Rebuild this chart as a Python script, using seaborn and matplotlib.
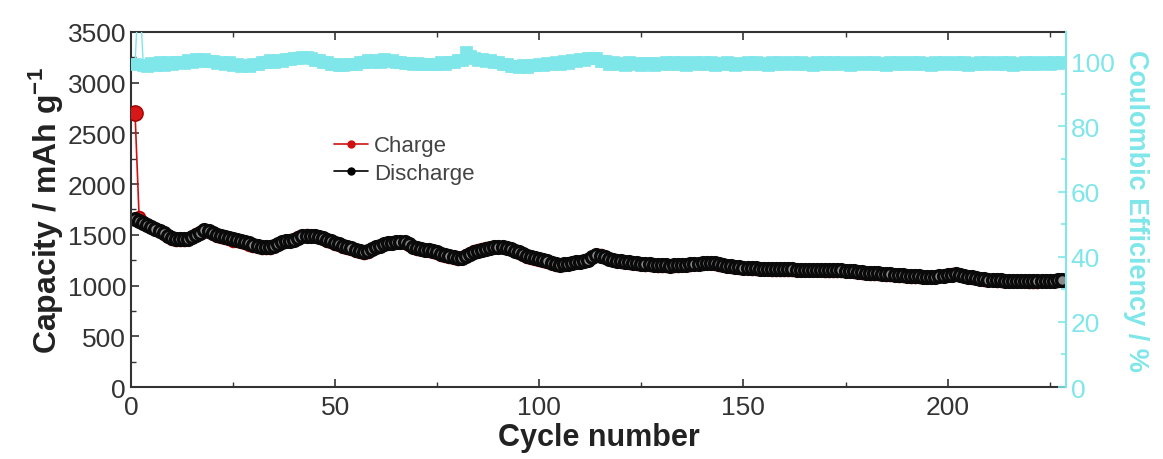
import numpy as np
import pandas as pd
import matplotlib
matplotlib.use("Agg")
import matplotlib.pyplot as plt
from matplotlib.lines import Line2D
from matplotlib.ticker import MultipleLocator
import seaborn as sns

# ── данные ──
discharge = [
    1660, 1640, 1620, 1600, 1580, 1560, 1540, 1515, 1490, 1470,
    1460, 1455, 1455, 1460, 1475, 1495, 1520, 1545, 1535, 1515,
    1500, 1485, 1475, 1465, 1455, 1450, 1440, 1430, 1415, 1400,
    1390, 1385, 1380, 1382, 1390, 1410, 1425, 1435, 1440, 1450,
    1470, 1485, 1490, 1488, 1485, 1478, 1465, 1450, 1435, 1420,
    1405, 1390, 1380, 1370, 1355, 1345, 1335, 1340, 1360, 1380,
    1395, 1405, 1415, 1420, 1428, 1432, 1425, 1405, 1385, 1370,
    1362, 1355, 1350, 1340, 1330, 1315, 1300, 1290, 1278, 1270,
    1275, 1295, 1315, 1330, 1340, 1350, 1360, 1370, 1378, 1380,
    1378, 1370, 1360, 1345, 1330, 1310, 1295, 1280, 1270, 1260,
    1250, 1238, 1225, 1212, 1205, 1208, 1215, 1222, 1228, 1235,
    1242, 1255, 1280, 1300, 1295, 1278, 1262, 1252, 1245, 1240,
    1235, 1230, 1225, 1220, 1215, 1212, 1208, 1205, 1202, 1200,
    1198, 1196, 1198, 1200, 1203, 1206, 1210, 1213, 1215, 1218,
    1220, 1222, 1218, 1210, 1202, 1195, 1190, 1186, 1182, 1178,
    1175, 1172, 1170, 1168, 1166, 1165, 1164, 1163, 1162, 1160,
    1160, 1159, 1158, 1158, 1157, 1156, 1156, 1155, 1155, 1154,
    1153, 1152, 1152, 1150, 1148, 1145, 1140, 1135, 1131, 1128,
    1125, 1122, 1120, 1117, 1115, 1112, 1108, 1104, 1100, 1097,
    1094, 1092, 1090, 1088, 1086, 1086, 1088, 1092, 1097, 1103,
    1108, 1110, 1105, 1096, 1088, 1080, 1073, 1067, 1062, 1058,
    1056, 1054, 1052, 1050, 1049, 1048, 1047, 1047, 1046, 1045,
    1044, 1044, 1046, 1048, 1050, 1050, 1052, 1055,
]
charge = [
    2700, 1675, 1625, 1600, 1578, 1555, 1535, 1510, 1485, 1462,
    1450, 1448, 1450, 1462, 1482, 1505, 1528, 1548, 1532, 1510,
    1492, 1478, 1466, 1455, 1444, 1436, 1425, 1415, 1402, 1390,
    1378, 1372, 1370, 1375, 1388, 1412, 1428, 1440, 1448, 1458,
    1478, 1492, 1495, 1490, 1484, 1474, 1460, 1444, 1428, 1412,
    1396, 1380, 1368, 1358, 1342, 1332, 1324, 1332, 1356, 1378,
    1394, 1406, 1418, 1424, 1432, 1434, 1422, 1400, 1380, 1364,
    1356, 1348, 1342, 1332, 1322, 1306, 1292, 1282, 1272, 1266,
    1274, 1300, 1322, 1338, 1348, 1358, 1366, 1374, 1380, 1382,
    1378, 1368, 1356, 1340, 1322, 1302, 1286, 1272, 1262, 1252,
    1242, 1230, 1218, 1206, 1200, 1204, 1212, 1220, 1228, 1236,
    1245, 1260, 1286, 1306, 1298, 1278, 1260, 1248, 1240, 1234,
    1228, 1224, 1218, 1213, 1208, 1205, 1202, 1199, 1196, 1194,
    1192, 1190, 1192, 1195, 1198, 1202, 1206, 1210, 1212, 1216,
    1219, 1222, 1216, 1207, 1198, 1190, 1185, 1180, 1176, 1172,
    1169, 1166, 1164, 1162, 1160, 1159, 1158, 1157, 1156, 1154,
    1154, 1153, 1152, 1152, 1151, 1150, 1150, 1149, 1149, 1148,
    1147, 1146, 1146, 1144, 1142, 1139, 1134, 1129, 1125, 1122,
    1119, 1116, 1114, 1111, 1109, 1106, 1102, 1098, 1094, 1091,
    1088, 1086, 1084, 1083, 1082, 1083, 1086, 1091, 1097, 1104,
    1110, 1113, 1106, 1096, 1087, 1078, 1070, 1064, 1058, 1054,
    1051, 1049, 1047, 1045, 1044, 1043, 1042, 1042, 1041, 1040,
    1039, 1039, 1041, 1043, 1045, 1046, 1048, 1050,
]
efficiency = [
    99.2, 125.0, 99.0, 98.6, 99.6, 98.9, 99.8, 99.0, 99.7, 99.2,
    99.8, 99.9, 99.6, 100.4, 99.9, 100.7, 100.2, 100.8, 100.1, 100.2,
    99.5, 99.9, 99.3, 99.7, 98.9, 99.1, 98.5, 99.0, 98.6, 99.1,
    99.2, 99.8, 99.7, 100.3, 99.7, 100.5, 100.0, 100.8, 100.7, 100.9,
    101.1, 101.3, 101.2, 101.0, 100.5, 100.4, 99.8, 99.8, 99.3, 99.3,
    98.9, 99.0, 99.1, 99.2, 99.1, 99.8, 99.7, 100.3, 99.7, 100.4,
    99.9, 100.6, 100.0, 100.5, 99.9, 99.9, 99.6, 99.6, 99.3, 99.4,
    99.2, 99.3, 99.1, 99.2, 99.1, 99.7, 99.1, 99.8, 99.8, 100.4,
    100.4, 103.0, 101.5, 101.0, 100.3, 100.8, 100.0, 100.5, 99.7, 99.8,
    99.1, 99.2, 98.6, 98.7, 98.2, 98.8, 98.3, 98.9, 98.8, 99.3,
    98.9, 99.5, 99.1, 99.8, 99.3, 100.0, 99.6, 100.3, 100.2, 100.8,
    100.3, 101.0, 100.9, 100.9, 100.1, 100.0, 99.3, 99.7, 99.1, 99.6,
    99.0, 99.7, 99.1, 99.6, 98.9, 99.5, 99.4, 99.0, 99.6, 99.1,
    99.7, 99.1, 99.8, 99.2, 99.7, 99.0, 99.6, 99.7, 99.1, 99.7,
    99.2, 99.8, 99.0, 99.6, 99.1, 99.7, 99.2, 98.9, 99.6, 99.1,
    99.7, 99.2, 99.8, 99.1, 99.6, 99.0, 99.7, 99.2, 99.8, 99.1,
    99.6, 99.8, 99.2, 99.7, 99.1, 99.6, 99.0, 99.7, 99.2, 99.8,
    99.1, 99.7, 99.2, 99.8, 99.5, 99.0, 99.7, 99.1, 99.6, 99.8,
    99.2, 99.7, 99.1, 99.6, 99.0, 99.7, 99.2, 99.8, 99.1, 99.6,
    99.7, 99.2, 99.8, 99.1, 99.6, 99.0, 99.7, 99.2, 99.8, 99.6,
    99.1, 99.7, 99.2, 99.8, 99.0, 99.6, 99.1, 99.7, 99.2, 99.8,
    99.6, 99.1, 99.7, 99.2, 99.8, 99.0, 99.6, 99.1, 99.7, 99.2,
    99.8, 99.1, 99.6, 99.7, 99.2, 99.8, 99.5, 99.7,
]
cycles = list(range(1, len(discharge) + 1))

CYAN = "#7fe6ea"

sns.set_theme(style="ticks")
plt.rcParams["font.family"] = ["Liberation Sans", "DejaVu Sans"]
plt.rcParams["mathtext.fontset"] = "custom"
plt.rcParams["mathtext.bf"] = "Liberation Sans:bold"
plt.rcParams["mathtext.rm"] = "Liberation Sans"

df = pd.DataFrame({"cycle": cycles, "charge": charge,
                   "discharge": discharge, "ce": efficiency})

fig = plt.figure(figsize=(11.63, 4.6), dpi=100)
ax = fig.add_axes([0.1126, 0.1565, 0.8040, 0.7718])
ax2 = ax.twinx()

# ── ёмкость ──
sns.lineplot(data=df, x="cycle", y="charge", ax=ax, color="#d01010",
             marker="o", markersize=8.5, markerfacecolor="#e02020",
             markeredgecolor="#b00000", markeredgewidth=1.2, linewidth=1.2,
             estimator=None, sort=False)
ax.plot(cycles[0], charge[0], "o", color="#d81818", markersize=11,
        markeredgecolor="#a00000", zorder=5)
sns.lineplot(data=df, x="cycle", y="discharge", ax=ax, color="black",
             marker="o", markersize=8.5, markerfacecolor="#8c8c8c",
             markeredgecolor="#0a0a0a", markeredgewidth=2.4, linewidth=1.5,
             estimator=None, sort=False)

# ── кулоновская эффективность ──
sns.lineplot(data=df, x="cycle", y="ce", ax=ax2, color=CYAN,
             marker="s", markersize=8, markerfacecolor=CYAN,
             markeredgecolor=CYAN, markeredgewidth=0.5, linewidth=1.0,
             estimator=None, sort=False)

ax.set_xlim(0, 229)
ax.set_ylim(0, 3500)
ax2.set_ylim(0, 109)

ax.xaxis.set_major_locator(MultipleLocator(50))
ax.xaxis.set_minor_locator(MultipleLocator(25))
ax.yaxis.set_major_locator(MultipleLocator(500))
ax.yaxis.set_minor_locator(MultipleLocator(250))
ax2.yaxis.set_major_locator(MultipleLocator(20))
ax2.yaxis.set_minor_locator(MultipleLocator(10))

ax.tick_params(axis="both", which="both", direction="in", top=True,
               right=False, labelsize=19, colors="#333333")
ax.tick_params(which="major", length=6, width=1.2)
ax.tick_params(which="minor", length=3.5, width=1.0)
ax.tick_params(axis="x", pad=6)
ax2.tick_params(axis="y", which="both", direction="in", colors=CYAN,
                labelsize=19, width=1.2)
ax2.tick_params(which="major", length=6)
ax2.tick_params(which="minor", length=3.5)

for side in ["left", "bottom", "top"]:
    ax.spines[side].set_color("#333333")
    ax.spines[side].set_linewidth(1.5)
ax.spines["right"].set_visible(False)
for side in ["left", "bottom", "top"]:
    ax2.spines[side].set_visible(False)
ax2.spines["right"].set_color(CYAN)
ax2.spines["right"].set_linewidth(1.5)

ax.set_xlabel("Cycle number", fontsize=22, fontweight="bold",
              color="#222222", labelpad=2)
ax.set_ylabel(r"Capacity / mAh g$^{\mathbf{-1}}$", fontsize=23,
              fontweight="bold", color="#222222", labelpad=2)
ax2.set_ylabel("Coulombic Efficiency / %", fontsize=19.5, fontweight="bold",
               color=CYAN, rotation=270, labelpad=25)

handles = [
    Line2D([], [], color="#d01010", marker="o", markersize=5, linewidth=1.2),
    Line2D([], [], color="black", marker="o", markersize=5, linewidth=1.2),
]
ax.legend(handles, ["Charge", "Discharge"], loc="upper left",
          bbox_to_anchor=(0.196, 0.765), frameon=False, fontsize=16,
          handlelength=1.5, handletextpad=0.3, labelspacing=0.3,
          labelcolor="#444444")

fig.savefig("out.png", dpi=100, facecolor="white")
plt.close(fig)
